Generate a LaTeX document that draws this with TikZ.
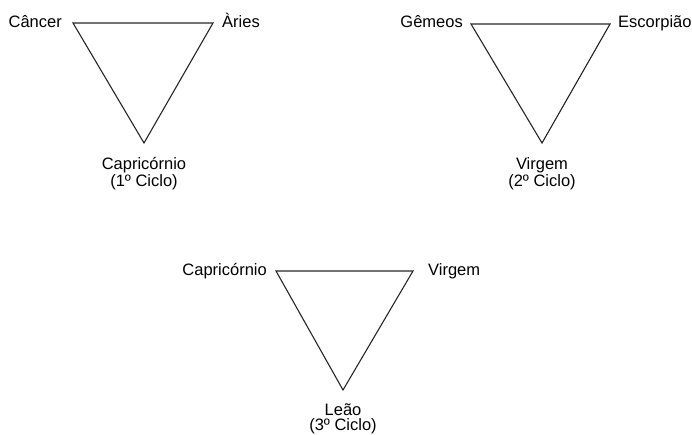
\documentclass[tikz,border=0pt]{standalone}
\usepackage{fontspec}
\setmainfont{Liberation Sans}
\begin{document}
\begin{tikzpicture}[x=1pt,y=-1pt,
  lbl/.style={inner sep=0pt,font=\fontsize{16.5}{19}\selectfont},
  tri/.style={draw=black!85,line width=1.1pt,line join=miter}]
\useasboundingbox (0,0) rectangle (692,435);
% triangle 1
\coordinate (a1) at (73,23);
\coordinate (b1) at (213,23);
\coordinate (c1) at (144,143);
\draw[tri] (a1) -- (b1) -- (c1) -- cycle;
\node[lbl,anchor=base east] (l1a) at (62,27.5) {Câncer};
\node[lbl,anchor=base west] (l1b) at (222,27.5) {Àries};
\node[lbl,anchor=base] (l1c) at (144,170) {Capricórnio};
\node[lbl,anchor=base] (l1d) at (144,187) {(1º Ciclo)};
% triangle 2
\coordinate (a2) at (471,24);
\coordinate (b2) at (610,24);
\coordinate (c2) at (542,143);
\draw[tri] (a2) -- (b2) -- (c2) -- cycle;
\node[lbl,anchor=base east] (l2a) at (463,28) {Gêmeos};
\node[lbl,anchor=base west] (l2b) at (618,28) {Escorpião};
\node[lbl,anchor=base] (l2c) at (542,170) {Virgem};
\node[lbl,anchor=base] (l2d) at (542,187) {(2º Ciclo)};
% triangle 3
\coordinate (a3) at (276,271);
\coordinate (b3) at (413,271);
\coordinate (c3) at (343,390);
\draw[tri] (a3) -- (b3) -- (c3) -- cycle;
\node[lbl,anchor=base east] (l3a) at (267,275) {Capricórnio};
\node[lbl,anchor=base west] (l3b) at (428,275) {Virgem};
\node[lbl,anchor=base] (l3c) at (343,415) {Leão};
\node[lbl,anchor=base] (l3d) at (343,430.5) {(3º Ciclo)};
\end{tikzpicture}
\end{document}
